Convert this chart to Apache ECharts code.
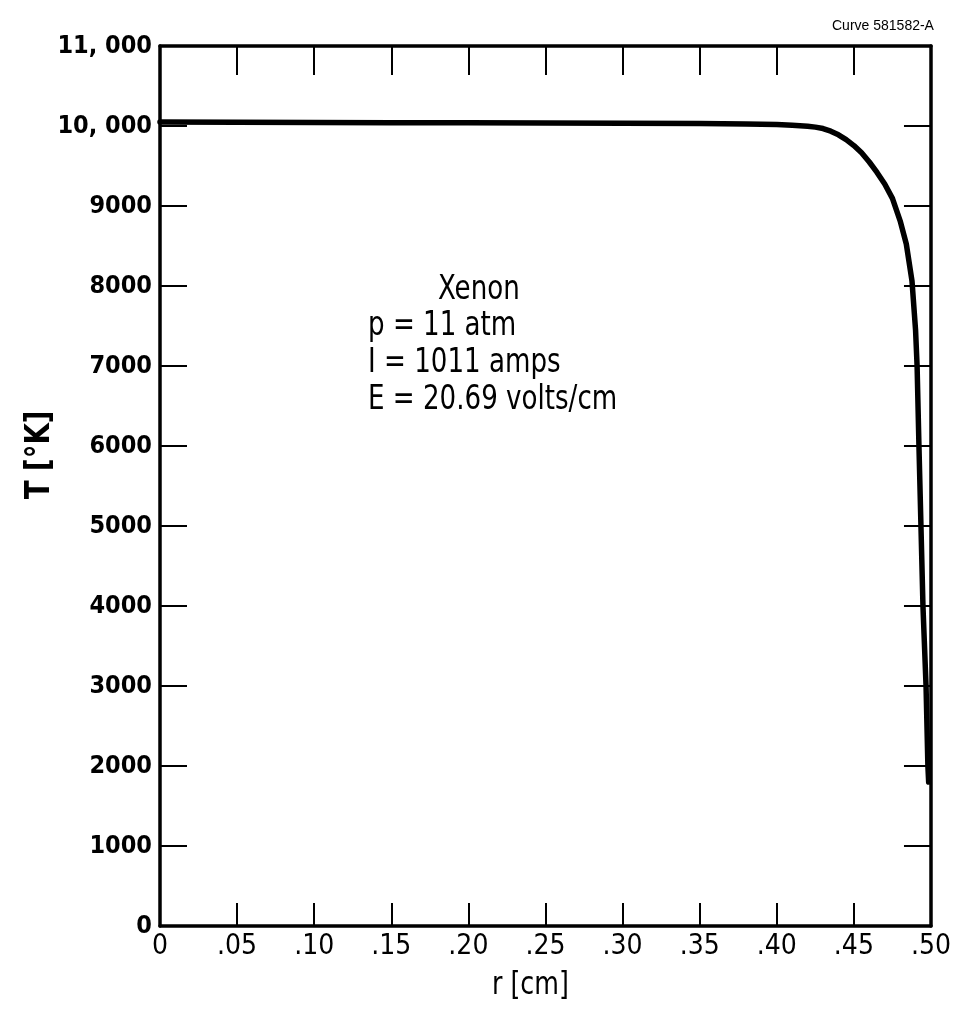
<!DOCTYPE html>
<html>
<head>
<meta charset="utf-8">
<script src="https://cdn.jsdelivr.net/npm/echarts@6/dist/echarts.min.js"></script>
<style>html,body{margin:0;padding:0;background:#fff;}#c{width:954px;height:1026px;}</style>
</head>
<body>
<div id="c"></div>
<script>
// radius r [cm]
const rValues = [0, 0.05, 0.10, 0.15, 0.20, 0.25, 0.30, 0.35, 0.38, 0.40, 0.41, 0.42, 0.425, 0.43, 0.435, 0.44, 0.445, 0.45, 0.455, 0.46, 0.465, 0.47, 0.475, 0.48, 0.484, 0.4877, 0.49, 0.491, 0.4922, 0.4935, 0.4948, 0.4968, 0.498, 0.4985];
// temperature T [°K]
const tValues = [10050, 10048, 10045, 10042, 10040, 10038, 10035, 10030, 10025, 10018, 10010, 9998, 9986, 9968, 9935, 9890, 9830, 9755, 9665, 9550, 9420, 9275, 9095, 8815, 8525, 8060, 7450, 7000, 6000, 5000, 4000, 3000, 2000, 1800];
const xTickLabels = ['0', '.05', '.10', '.15', '.20', '.25', '.30', '.35', '.40', '.45', '.50'];
const yTickLabels = ['0', '1000', '2000', '3000', '4000', '5000', '6000', '7000', '8000', '9000', '10, 000', '11, 000'];
const annotationLines = ['Xenon', 'p = 11 atm', 'I = 1011 amps', 'E = 20.69 volts/cm'];

const FONT = "'DejaVu Sans Condensed', 'Liberation Sans Narrow', sans-serif";
const chart = echarts.init(document.getElementById('c'));
const data = rValues.map((r, i) => [r, tValues[i]]);
const axLine = {show: true, onZero: false, lineStyle: {color: '#000', width: 3.5}};

function txt(text, x, y, size, extra) {
  return Object.assign({type: 'text', x: x, y: y, scaleX: 0.88,
    style: {text: text, font: size + "px " + FONT, fill: '#000', verticalAlign: 'middle'}}, extra || {});
}

chart.setOption({
  backgroundColor: '#fff',
  animation: false,
  grid: {left: 160, right: 21, top: 46, bottom: 100},
  xAxis: [
    {type: 'value', position: 'bottom', min: 0, max: 0.5, interval: 0.05,
     axisLine: axLine, splitLine: {show: false},
     axisTick: {show: true, inside: true, length: 23, lineStyle: {color: '#000', width: 2}},
     axisLabel: {margin: 7, fontFamily: FONT, fontSize: 28, color: '#000',
       formatter: v => xTickLabels[Math.round(v / 0.05)]}},
    {type: 'value', position: 'top', min: 0, max: 0.5, interval: 0.05,
     axisLine: axLine, splitLine: {show: false},
     axisTick: {show: true, inside: true, length: 29, lineStyle: {color: '#000', width: 2}},
     axisLabel: {show: false}}
  ],
  yAxis: [
    {type: 'value', position: 'left', min: 0, max: 11000, interval: 1000,
     axisLine: axLine, splitLine: {show: false},
     axisTick: {show: true, inside: true, length: 27, lineStyle: {color: '#000', width: 2}},
     axisLabel: {margin: 8, fontFamily: FONT, fontSize: 25, fontWeight: 'bold', color: '#000',
       formatter: v => yTickLabels[Math.round(v / 1000)]}},
    {type: 'value', position: 'right', min: 0, max: 11000, interval: 1000,
     axisLine: axLine, splitLine: {show: false},
     axisTick: {show: true, inside: true, length: 27, lineStyle: {color: '#000', width: 2}},
     axisLabel: {show: false}}
  ],
  series: [{
    type: 'line', xAxisIndex: 0, yAxisIndex: 0, data: data,
    symbol: 'none', smooth: false,
    lineStyle: {color: '#000', width: 5.5, join: 'round', cap: 'round'}
  }],
  graphic: [
    {type: 'text', left: 832, top: 19,
     style: {text: 'Curve 581582-A', font: "14px 'Liberation Sans', sans-serif", fill: '#000'}},
    txt('r [cm]', 492, 986, 32),
    {type: 'text', x: 40, y: 455, rotation: Math.PI / 2, scaleX: 0.9,
     style: {text: 'T [°K]', font: "bold 34px " + FONT, fill: '#000', align: 'center', verticalAlign: 'middle'}},
    txt(annotationLines[0], 438, 290, 33),
    txt(annotationLines[1], 368, 326, 33),
    txt(annotationLines[2], 368, 363, 33),
    txt(annotationLines[3], 368, 400, 33)
  ]
});
</script>
</body>
</html>
